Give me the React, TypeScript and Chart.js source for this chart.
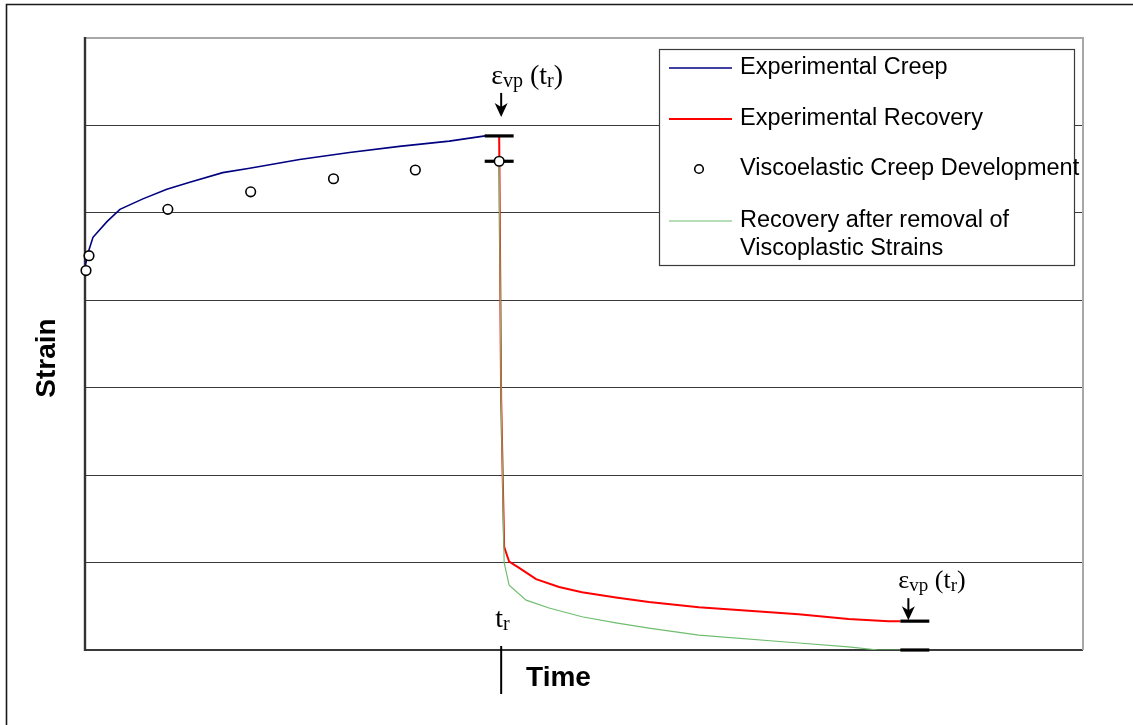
import React, { useEffect, useRef } from "react";
import { Chart, registerables } from "chart.js";

Chart.register(...registerables);

const W = 1133;
const H = 725;

// Axes (arbitrary units, no tick labels in the original)
const X_MIN = 0;
const X_MAX = 1000;
const Y_MIN = 0;
const Y_MAX = 7;
const Y_STEP = 1;
const T_R = 415; // time of load removal

// Experimental creep (blue)
const creepTime = [0, 3, 8, 22, 35, 58, 82, 105, 138, 165, 215, 265, 315, 365, 401, 415];
const creepStrain = [4.38, 4.54, 4.72, 4.9, 5.04, 5.16, 5.27, 5.35, 5.46, 5.51, 5.61, 5.69, 5.76, 5.82, 5.88, 5.88];

// Experimental recovery (red)
const recoveryTime = [415, 417, 420, 425, 435, 452, 475, 498, 532, 565, 615, 715, 765, 805, 817];
const recoveryStrain = [5.88, 2.86, 1.18, 1.01, 0.94, 0.81, 0.72, 0.66, 0.6, 0.55, 0.49, 0.41, 0.355, 0.33, 0.33];

// Viscoelastic creep development (circles)
const veTime = [1, 4, 83, 166, 249, 331, 415];
const veStrain = [4.34, 4.51, 5.04, 5.24, 5.39, 5.49, 5.59];

// Recovery after removal of viscoplastic strains (green)
const adjTime = [415, 417, 420, 425, 442, 465, 498, 532, 565, 615, 715, 765, 795, 817];
const adjStrain = [5.59, 2.86, 1.0, 0.74, 0.57, 0.48, 0.38, 0.31, 0.25, 0.17, 0.08, 0.035, 0, 0];

const legendLabels = [
  ["Experimental Creep"],
  ["Experimental Recovery"],
  ["Viscoelastic Creep Development"],
  ["Recovery after removal of", "Viscoplastic Strains"],
];

const BAR_LEN = 29; // length of the black marker bars (time units)

const pts = (xs: number[], ys: number[]) => xs.map((x, i) => ({ x, y: ys[i] }));
const last = (a: number[]) => a[a.length - 1];

const SANS = '"Liberation Sans", Arial, Helvetica, sans-serif';
const SERIF = '"Liberation Serif", "Times New Roman", Times, serif';

function drawArrow(ctx: CanvasRenderingContext2D, x: number, y0: number, tip: number) {
  ctx.save();
  ctx.strokeStyle = "#000";
  ctx.fillStyle = "#000";
  ctx.lineWidth = 2;
  ctx.beginPath();
  ctx.moveTo(x, y0);
  ctx.lineTo(x, tip - 8);
  ctx.stroke();
  ctx.beginPath();
  ctx.moveTo(x - 6.5, tip - 14);
  ctx.lineTo(x, tip - 10);
  ctx.lineTo(x + 6.5, tip - 14);
  ctx.lineTo(x, tip);
  ctx.closePath();
  ctx.fill();
  ctx.restore();
}

function drawEvp(ctx: CanvasRenderingContext2D, x: number, base: number, size: number) {
  const big = `${size}px ${SERIF}`;
  const small = `${Math.round(size * 0.72)}px ${SERIF}`;
  const sub = base + size * 0.1;
  ctx.save();
  ctx.fillStyle = "#000";
  ctx.textAlign = "left";
  ctx.textBaseline = "alphabetic";
  let cx = x;
  const parts: [string, string, number][] = [
    ["ε", big, base],
    ["vp", small, sub],
    [" (t", big, base],
    ["r", small, sub],
    [")", big, base],
  ];
  for (const [t, f, b] of parts) {
    ctx.font = f;
    ctx.fillText(t, cx, b);
    cx += ctx.measureText(t).width;
  }
  ctx.restore();
}

const overlayPlugin = {
  id: "overlay",
  beforeDraw(chart: any) {
    const ctx = chart.ctx as CanvasRenderingContext2D;
    ctx.save();
    ctx.fillStyle = "#fff";
    ctx.fillRect(0, 0, W, H);
    ctx.strokeStyle = "#1a1a1a";
    ctx.lineWidth = 1.6;
    ctx.beginPath();
    ctx.moveTo(6.5, H);
    ctx.lineTo(6.5, 4.5);
    ctx.lineTo(W, 4.5);
    ctx.stroke();
    ctx.restore();
  },
  beforeDatasetsDraw(chart: any) {
    const ctx = chart.ctx as CanvasRenderingContext2D;
    const a = chart.chartArea;
    ctx.save();
    ctx.lineWidth = 2;
    ctx.strokeStyle = "#a8a8a8";
    ctx.beginPath();
    ctx.moveTo(a.right, a.top - 1);
    ctx.lineTo(a.right, a.bottom);
    ctx.stroke();
    ctx.strokeStyle = "#333";
    ctx.lineWidth = 2.4;
    ctx.beginPath();
    ctx.moveTo(a.left, a.top - 1);
    ctx.lineTo(a.left, a.bottom + 1);
    ctx.stroke();
    ctx.restore();
  },
  afterDraw(chart: any) {
    const ctx = chart.ctx as CanvasRenderingContext2D;
    const a = chart.chartArea;
    const xs = chart.scales.x;
    const ys = chart.scales.y;
    const px = (v: number) => xs.getPixelForValue(v);
    const py = (v: number) => ys.getPixelForValue(v);

    // annotation at t_r
    const trX = px(T_R);
    const topBarY = py(last(creepStrain));
    drawArrow(ctx, trX + 2, topBarY - 43, topBarY - 19);
    drawEvp(ctx, trX - 8, topBarY - 52, 28);

    // annotation at the end of recovery
    const endX = px(last(recoveryTime));
    const endY = py(last(recoveryStrain));
    drawArrow(ctx, endX + 8, endY - 23, endY - 1);
    drawEvp(ctx, endX - 2, endY - 33, 26);

    // t_r label and tick
    ctx.save();
    ctx.fillStyle = "#000";
    ctx.textBaseline = "alphabetic";
    ctx.textAlign = "left";
    ctx.font = `28px ${SERIF}`;
    ctx.fillText("t", trX - 4, a.bottom - 23);
    const tw = ctx.measureText("t").width;
    ctx.font = `20px ${SERIF}`;
    ctx.fillText("r", trX - 4 + tw, a.bottom - 20);
    ctx.strokeStyle = "#000";
    ctx.lineWidth = 2;
    ctx.beginPath();
    ctx.moveTo(trX + 2, a.bottom - 4);
    ctx.lineTo(trX + 2, a.bottom + 44);
    ctx.stroke();

    // axis titles
    ctx.font = `bold 28px ${SANS}`;
    ctx.textAlign = "center";
    ctx.fillText("Time", a.left + 473.5, a.bottom + 36);
    ctx.translate(a.left - 30, (a.top + a.bottom) / 2 + 14);
    ctx.rotate(-Math.PI / 2);
    ctx.textBaseline = "alphabetic";
    ctx.fillText("Strain", 0, 0);
    ctx.restore();

    // legend
    const bx = a.right - 424;
    const by = a.top + 11;
    const bw = 415;
    const bh = 216;
    ctx.save();
    ctx.fillStyle = "#fff";
    ctx.fillRect(bx, by, bw, bh);
    ctx.strokeStyle = "#3a3a3a";
    ctx.lineWidth = 1.2;
    ctx.strokeRect(bx + 0.5, by + 0.5, bw, bh);
    const rowY = [by + 19, by + 70, by + 120, by + 172];
    const ds = chart.data.datasets;
    ctx.font = `23.5px ${SANS}`;
    ctx.textAlign = "left";
    ctx.textBaseline = "middle";
    legendLabels.forEach((lines, i) => {
      const d = ds[i];
      const y = rowY[i];
      if (d.showLine === false) {
        ctx.beginPath();
        ctx.arc(bx + 40, y, d.pointRadius - 0.5, 0, Math.PI * 2);
        ctx.fillStyle = d.pointBackgroundColor;
        ctx.fill();
        ctx.strokeStyle = d.pointBorderColor;
        ctx.lineWidth = d.pointBorderWidth;
        ctx.stroke();
      } else {
        ctx.strokeStyle = d.borderColor;
        ctx.lineWidth = d.borderWidth;
        ctx.beginPath();
        ctx.moveTo(bx + 10, y);
        ctx.lineTo(bx + 73, y);
        ctx.stroke();
      }
      ctx.fillStyle = "#000";
      lines.forEach((t, j) => ctx.fillText(t, bx + 81, y + j * 28));
    });
    ctx.restore();
  },
};

export default function App() {
  const ref = useRef<HTMLCanvasElement>(null);

  useEffect(() => {
    const barLine = (x0: number, x1: number, y: number) => ({
      label: "",
      data: [
        { x: x0, y },
        { x: x1, y },
      ],
      borderColor: "#000",
      borderWidth: 3.2,
      pointRadius: 0,
      clip: false as any,
      order: 1,
    });
    const chart = new Chart(ref.current as HTMLCanvasElement, {
      type: "line",
      data: {
        datasets: [
          {
            label: "Experimental Creep",
            data: pts(creepTime, creepStrain),
            borderColor: "#000080",
            borderWidth: 1.6,
            pointRadius: 0,
            order: 5,
          },
          {
            label: "Experimental Recovery",
            data: pts(recoveryTime, recoveryStrain),
            borderColor: "#ff0000",
            borderWidth: 2,
            pointRadius: 0,
            order: 4,
          },
          {
            label: "Viscoelastic Creep Development",
            data: pts(veTime, veStrain),
            showLine: false,
            pointRadius: 4.8,
            pointBorderWidth: 1.6,
            pointBorderColor: "#000",
            pointBackgroundColor: "#fff",
            borderColor: "#000",
            clip: false as any,
            order: 0,
          },
          {
            label: "Recovery after removal of Viscoplastic Strains",
            data: pts(adjTime, adjStrain),
            borderColor: "#6fbd6f",
            borderWidth: 1.2,
            pointRadius: 0,
            order: 3,
          },
          barLine(T_R - BAR_LEN / 2, T_R + BAR_LEN / 2, last(creepStrain)),
          barLine(T_R - BAR_LEN / 2, T_R + BAR_LEN / 2, last(veStrain)),
          barLine(last(recoveryTime), last(recoveryTime) + BAR_LEN, last(recoveryStrain)),
          barLine(last(adjTime), last(adjTime) + BAR_LEN, last(adjStrain)),
        ] as any,
      },
      options: {
        animation: false,
        responsive: false,
        maintainAspectRatio: false,
        layout: { padding: { left: 85, top: 38, right: 50, bottom: 75 } },
        plugins: {
          legend: { display: false },
          tooltip: { enabled: false },
        },
        elements: { line: { tension: 0 } },
        scales: {
          x: { type: "linear", min: X_MIN, max: X_MAX, display: false },
          y: {
            type: "linear",
            min: Y_MIN,
            max: Y_MAX,
            ticks: { display: false, stepSize: Y_STEP },
            border: { display: false },
            grid: {
              drawTicks: false,
              color: (c: any) => (c.tick && c.tick.value === Y_MAX ? "#a8a8a8" : "#3a3a3a"),
              lineWidth: (c: any) =>
                c.tick && (c.tick.value === Y_MAX || c.tick.value === Y_MIN) ? 2 : 1,
            },
          },
        },
      } as any,
      plugins: [overlayPlugin],
    });
    return () => chart.destroy();
  }, []);

  return (
    <div style={{ position: "fixed", left: 0, top: 0, width: W, height: H, background: "#fff" }}>
      <canvas ref={ref} width={W} height={H} style={{ display: "block", width: W, height: H }} />
    </div>
  );
}
